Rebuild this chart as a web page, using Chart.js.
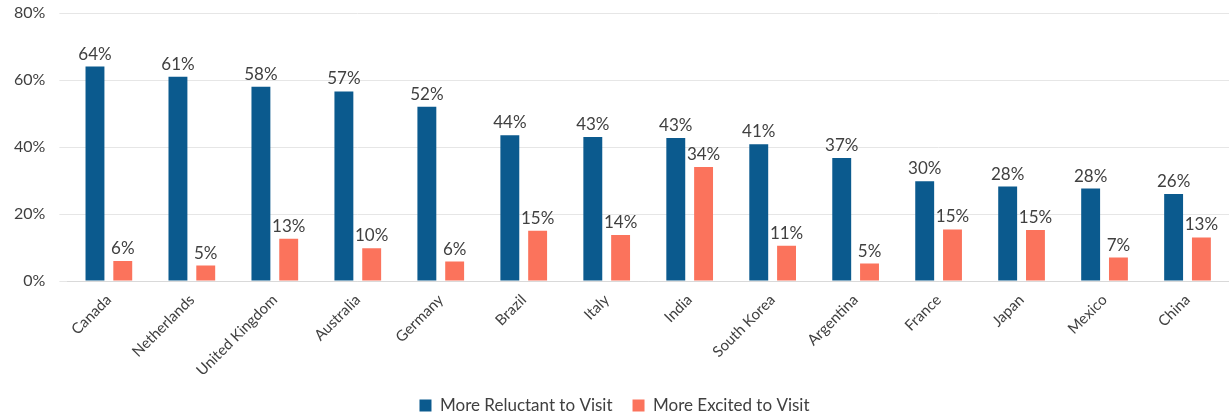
<!DOCTYPE html>
<html>
<head>
<meta charset="utf-8">
<script src="https://cdn.jsdelivr.net/npm/chart.js@4"></script>
<style>
  html, body { margin: 0; padding: 0; background: #fff; }
  #wrap { width: 1229px; height: 417px; }
</style>
</head>
<body>
<div id="wrap"><canvas id="chartVisit"></canvas></div>
<script>
// Data
const countries = ['Canada', 'Netherlands', 'United Kingdom', 'Australia', 'Germany', 'Brazil', 'Italy',
    'India', 'South Korea', 'Argentina', 'France', 'Japan', 'Mexico', 'China'];
const reluctant = [64, 61, 58, 56.6, 52, 43.5, 43, 42.7, 40.8, 36.7, 29.8, 28.2, 27.6, 26];
const excited = [6, 4.6, 12.6, 9.8, 5.8, 15, 13.7, 34, 10.5, 5.2, 15.4, 15.2, 7, 13];
const yTicks = [0, 20, 40, 60, 80];

const fontFamily = "Lato, 'Open Sans', sans-serif";

// draws the value labels above each bar
const valueLabels = {
    id: 'valueLabels',
    afterDatasetsDraw(chart) {
        const ctx = chart.ctx;
        ctx.save();
        ctx.font = '17px ' + fontFamily;
        ctx.fillStyle = '#404040';
        ctx.textAlign = 'center';
        ctx.textBaseline = 'bottom';
        chart.data.datasets.forEach((ds, i) => {
            chart.getDatasetMeta(i).data.forEach((bar, j) => {
                ctx.fillText(Math.round(ds.data[j]) + '%', bar.x, bar.y - 4);
            });
        });
        ctx.restore();
    }
};

// keeps the legend block to a fixed height
const legendHeight = {
    id: 'legendHeight',
    beforeInit(chart) {
        const fit = chart.legend.fit;
        chart.legend.fit = function() {
            fit.call(this);
            this.height = 40;
        };
    }
};

document.addEventListener('DOMContentLoaded', function() {
    new Chart(document.getElementById('chartVisit'), {
        type: 'bar',
        data: {
            labels: countries,
            datasets: [{
                label: 'More Reluctant to Visit',
                data: reluctant,
                backgroundColor: '#0B5A8E',
                categoryPercentage: 0.67,
                barPercentage: 0.68
            }, {
                label: 'More Excited to Visit',
                data: excited,
                backgroundColor: '#FB735C',
                categoryPercentage: 0.67,
                barPercentage: 0.68
            }]
        },
        options: {
            responsive: true,
            maintainAspectRatio: false,
            animation: false,
            layout: { padding: { left: 0, right: 0, top: 13, bottom: 0 } },
            plugins: {
                legend: {
                    position: 'bottom',
                    labels: {
                        boxWidth: 12,
                        boxHeight: 12,
                        padding: 20,
                        color: '#404040',
                        font: { family: fontFamily, size: 17 }
                    }
                },
                tooltip: { enabled: false }
            },
            scales: {
                x: {
                    grid: { display: false },
                    border: { color: '#d9d9d9' },
                    afterFit(scale) { scale.height = 96; },
                    ticks: {
                        minRotation: 45,
                        maxRotation: 45,
                        padding: 2,
                        color: '#404040',
                        font: { family: fontFamily, size: 15 }
                    }
                },
                y: {
                    min: 0,
                    max: 80,
                    afterBuildTicks(axis) {
                        axis.ticks = yTicks.map(v => ({ value: v }));
                    },
                    afterFit(scale) { scale.paddingTop = 0; scale.paddingBottom = 0; },
                    border: { display: false },
                    grid: { color: '#e6e6e6' },
                    ticks: {
                        padding: 14,
                        color: '#404040',
                        font: { family: fontFamily, size: 16 },
                        callback: v => v + '%'
                    }
                }
            }
        },
        plugins: [valueLabels, legendHeight]
    });
});
</script>
</body>
</html>
